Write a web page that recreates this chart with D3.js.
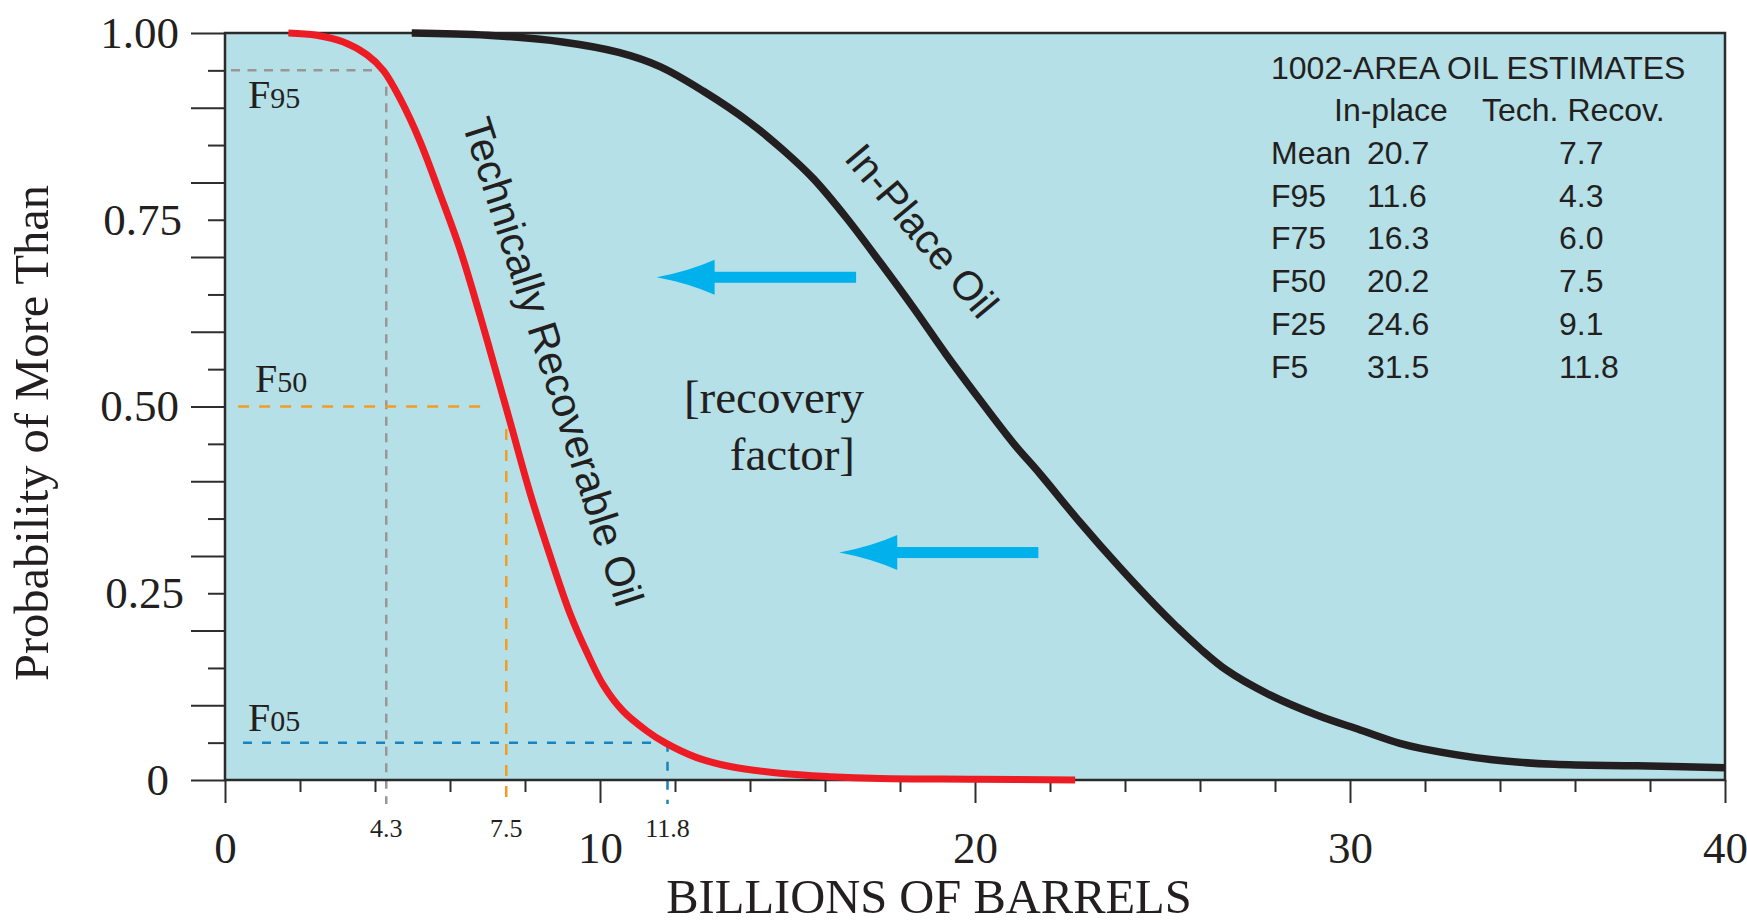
<!DOCTYPE html>
<html>
  <head>
    <meta charset="UTF-8">
    <title>1002-Area Oil Estimates</title>
    <script src="https://d3js.org/d3.v7.min.js"></script>
    <style>
      body { margin: 0; background: #fff; }
      .serif { font-family: "Liberation Serif", "Times New Roman", serif; fill: #231f20; }
      .sans { font-family: "Liberation Sans", Arial, sans-serif; fill: #231f20; }
    </style>
  </head>
  <body>
    <svg width="1747" height="922"></svg>
    <script>
      // Curves (billions of barrels, probability of more than)
      var redX = [1.69, 2.44, 3.16, 3.78, 4.22, 4.67, 5.2, 5.73, 6.27, 6.8, 7.33, 7.6, 8.13, 8.67, 9.2, 9.64, 10.09, 10.62, 11.24, 11.73, 12.58, 13.47, 14.8, 16.13, 17.47, 20.0, 22.67];
      var redY = [1.0, 0.997, 0.988, 0.971, 0.95, 0.912, 0.855, 0.785, 0.71, 0.622, 0.528, 0.48, 0.385, 0.3, 0.223, 0.172, 0.127, 0.092, 0.066, 0.05, 0.03, 0.018, 0.009, 0.0045, 0.002, 0.001, 0.0];
      var blackX = [4.98, 7.0, 9.0, 10.5, 11.6, 12.76, 14.0, 14.89, 15.69, 16.58, 17.47, 18.36, 19.24, 20.13, 21.02, 21.73, 22.8, 23.87, 24.84, 25.38, 26.0, 26.71, 27.78, 29.11, 30.27, 31.33, 31.92, 33.8, 35.45, 37.65, 40];
      var blackY = [1.0, 0.997, 0.988, 0.974, 0.955, 0.922, 0.88, 0.843, 0.805, 0.752, 0.693, 0.632, 0.569, 0.509, 0.451, 0.41, 0.345, 0.284, 0.232, 0.205, 0.176, 0.147, 0.116, 0.087, 0.067, 0.049, 0.042, 0.027, 0.021, 0.019, 0.0165];

      // Fractile guide lines
      var fracNames = ["95", "50", "05"];
      var fracProb = [0.95, 0.5, 0.05];
      var fracValue = [4.3, 7.5, 11.8];
      var fracLabel = ["4.3", "7.5", "11.8"];
      var fracColor = ["#9b9595", "#f39c22", "#1a83bf"];

      // Axis ticks
      var xMajorTicks = [0, 10, 20, 30, 40];
      var yLabelTicks = [0, 0.25, 0.5, 0.75, 1.0];

      // Table
      var tableTitle = "1002-AREA OIL ESTIMATES";
      var tableHeads = ["In-place", "Tech. Recov."];
      var tableRows = ["Mean", "F95", "F75", "F50", "F25", "F5"];
      var inPlace = ["20.7", "11.6", "16.3", "20.2", "24.6", "31.5"];
      var techRecov = ["7.7", "4.3", "6.0", "7.5", "9.1", "11.8"];

      var svg = d3.select("svg"),
          plotL = 225, plotR = 1725, plotT = 33, plotB = 780;

      var x = d3.scaleLinear().domain([0, 40]).range([plotL, plotR]);
      var y = d3.scaleLinear().domain([0, 1]).range([plotB, plotT]);

      // Plot background
      svg.append("rect")
          .attr("x", plotL).attr("y", plotT)
          .attr("width", plotR - plotL).attr("height", plotB - plotT)
          .attr("fill", "#b5e0e7");

      // Dashed guide lines
      var hStart = [0.16, 0.35, 0.48];
      var hEnd = [4.3, 6.88, 11.75];
      var vStart = [0.95, 0.47, 0.05];
      var dashes = ["9,7.5", "11,10", "9,10"];
      var g = svg.append("g");
      fracProb.forEach(function(p, i) {
        g.append("line")
            .attr("x1", x(hStart[i])).attr("x2", x(hEnd[i]))
            .attr("y1", y(p)).attr("y2", y(p))
            .attr("stroke", fracColor[i]).attr("stroke-width", 2.5)
            .attr("stroke-dasharray", dashes[i]);
        g.append("line")
            .attr("x1", x(fracValue[i])).attr("x2", x(fracValue[i]))
            .attr("y1", y(vStart[i])).attr("y2", y(0) + 24)
            .attr("stroke", fracColor[i]).attr("stroke-width", 2.5)
            .attr("stroke-dasharray", dashes[i]);
        g.append("text")
            .attr("class", "serif")
            .attr("x", x(fracValue[i])).attr("y", 837)
            .attr("text-anchor", "middle")
            .attr("font-size", 26)
            .text(fracLabel[i]);
      });

      // F labels
      var fLabelX = [248, 255, 248];
      var fLabelY = [108, 392, 731];
      fracNames.forEach(function(n, i) {
        var t = svg.append("text").attr("class", "serif")
            .attr("x", fLabelX[i]).attr("y", fLabelY[i]);
        t.append("tspan").attr("font-size", 40).text("F");
        t.append("tspan").attr("font-size", 30).text(n);
      });

      // Axis ticks
      function styleAxis(sel) {
        sel.select(".domain").remove();
        sel.selectAll("line").attr("stroke", "#2e2e2e").attr("stroke-width", 2);
      }
      svg.append("g").attr("transform", "translate(" + plotL + ",0)")
          .call(d3.axisLeft(y).tickValues(d3.range(0, 1.01, 0.1)).tickSize(34).tickFormat(""))
          .call(styleAxis);
      svg.append("g").attr("transform", "translate(" + plotL + ",0)")
          .call(d3.axisLeft(y).tickValues(d3.range(0.05, 1, 0.1)).tickSize(17).tickFormat(""))
          .call(styleAxis);
      svg.append("g").attr("transform", "translate(0," + plotB + ")")
          .call(d3.axisBottom(x).tickValues(xMajorTicks).tickSize(23).tickFormat(""))
          .call(styleAxis);
      svg.append("g").attr("transform", "translate(0," + plotB + ")")
          .call(d3.axisBottom(x).tickValues(d3.range(2, 40, 2).filter(function(d) { return d % 10; })).tickSize(12).tickFormat(""))
          .call(styleAxis);

      // Tick labels (the lone "0" sits a little left of the others)
      var yLabelShift = { 0: -10, 0.25: 5, 0.75: 3 };
      svg.append("g").attr("transform", "translate(" + plotL + ",0)")
          .call(d3.axisLeft(y).tickValues(yLabelTicks).tickSize(0).tickPadding(46)
            .tickFormat(function(d) { return d === 0 ? "0" : d3.format(".2f")(d); }))
          .call(function(s) {
            s.select(".domain").remove();
            s.selectAll("text").attr("class", "serif").attr("font-size", 45).attr("fill", "#231f20")
                .attr("dx", function(d) { return yLabelShift[d] || 0; });
          });
      svg.append("g").attr("transform", "translate(0," + plotB + ")")
          .call(d3.axisBottom(x).tickValues(xMajorTicks).tickSize(0).tickPadding(51))
          .call(function(s) {
            s.select(".domain").remove();
            s.selectAll("text").attr("class", "serif").attr("font-size", 45).attr("fill", "#231f20");
          });

      // Axis titles
      svg.append("text").attr("class", "serif")
          .attr("x", 929).attr("y", 913)
          .attr("text-anchor", "middle").attr("font-size", 48.5)
          .text("BILLIONS OF BARRELS");
      svg.append("text").attr("class", "serif")
          .attr("transform", "translate(48,433) rotate(-90)")
          .attr("text-anchor", "middle").attr("font-size", 48.5)
          .text("Probability of More Than");

      // Frame
      svg.append("rect")
          .attr("x", plotL).attr("y", plotT)
          .attr("width", plotR - plotL).attr("height", plotB - plotT)
          .attr("fill", "none").attr("stroke", "#2b2b2b").attr("stroke-width", 2.5);

      // Curves
      var line = d3.line()
          .x(function(d) { return x(d[0]); })
          .y(function(d) { return y(d[1]); })
          .curve(d3.curveCatmullRom.alpha(0.5));
      svg.append("path")
          .datum(blackX.map(function(d, i) { return [d, blackY[i]]; }))
          .attr("fill", "none").attr("stroke", "#231f20").attr("stroke-width", 7.5)
          .attr("d", line);
      svg.append("path")
          .datum(redX.map(function(d, i) { return [d, redY[i]]; }))
          .attr("fill", "none").attr("stroke", "#ed1c24").attr("stroke-width", 7)
          .attr("d", line);

      // Arrows (recovery factor)
      var arrowTip = [11.51, 16.38];
      var arrowTail = [16.83, 21.69];
      var arrowY = [0.673, 0.3045];
      arrowTip.forEach(function(t, i) {
        var tx = x(t), ty = y(arrowY[i]), bx = tx + 58, h = 17.5;
        svg.append("rect")
            .attr("x", bx - 4).attr("y", ty - 5.5)
            .attr("width", x(arrowTail[i]) - bx + 4).attr("height", 11)
            .attr("fill", "#00b1eb");
        svg.append("path")
            .attr("d", "M" + tx + "," + ty +
              " Q" + (tx + 32) + "," + (ty - 6) + " " + bx + "," + (ty - h) +
              " L" + bx + "," + (ty + h) +
              " Q" + (tx + 32) + "," + (ty + 6) + " " + tx + "," + ty + "Z")
            .attr("fill", "#00b1eb");
      });

      // Curve labels
      svg.append("text").attr("class", "sans")
          .attr("transform", "translate(" + x(8.75) + "," + y(0.56) + ") rotate(72.3)")
          .attr("text-anchor", "middle").attr("dominant-baseline", "central")
          .attr("font-size", 41.5)
          .text("Technically Recoverable Oil");
      svg.append("text").attr("class", "sans")
          .attr("transform", "translate(" + x(18.58) + "," + y(0.735) + ") rotate(50)")
          .attr("text-anchor", "middle").attr("dominant-baseline", "central")
          .attr("font-size", 41)
          .text("In-Place Oil");

      svg.append("text").attr("class", "serif")
          .attr("x", x(17.04)).attr("y", y(0.491))
          .attr("text-anchor", "end").attr("font-size", 47)
          .text("[recovery");
      svg.append("text").attr("class", "serif")
          .attr("x", x(16.8)).attr("y", y(0.415))
          .attr("text-anchor", "end").attr("font-size", 47)
          .text("factor]");

      // Estimates table
      var tg = svg.append("g");
      function cell(tx, ty, s) {
        tg.append("text").attr("class", "sans").attr("font-size", 32)
            .attr("x", tx).attr("y", ty).text(s);
      }
      cell(1271, 79, tableTitle);
      cell(1334, 121, tableHeads[0]);
      cell(1482, 121, tableHeads[1]);
      tableRows.forEach(function(r, i) {
        var by = 164 + i * 42.7;
        cell(1271, by, r);
        cell(1367, by, inPlace[i]);
        cell(1559, by, techRecov[i]);
      });
    </script>
  </body>
</html>
